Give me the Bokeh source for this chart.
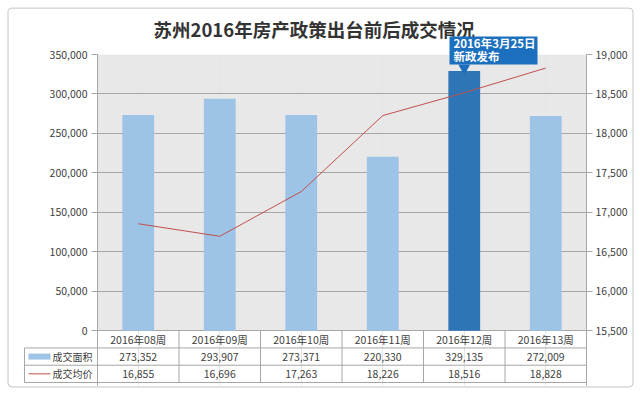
from bokeh.plotting import figure
from bokeh.models import Range1d, LinearAxis, FixedTicker, NumeralTickFormatter
from bokeh.core.properties import value
from bokeh.embed import file_html
from bokeh.resources import INLINE

# ---------------- data ----------------
TITLE = "苏州2016年房产政策出台前后成交情况"
WEEKS = ["2016年08周", "2016年09周", "2016年10周", "2016年11周", "2016年12周", "2016年13周"]
AREA = [273352, 293907, 273371, 220330, 329135, 272009]
PRICE = [16855, 16696, 17263, 18226, 18516, 18828]
SERIES_NAMES = ["成交面积", "成交均价"]
LEFT_TICKS = [0, 50000, 100000, 150000, 200000, 250000, 300000, 350000]
RIGHT_TICKS = [15500, 16000, 16500, 17000, 17500, 18000, 18500, 19000]
HIGHLIGHT = "2016年12周"
CALLOUT_LINES = ["2016年3月25日", "新政发布"]

# ---------------- layout (page pixels) ----------------
W, H = 640, 395
FL, FR = 97, 586      # plot area left/right
FT, FB = 53, 385      # frame top / bottom
Y0 = 330              # zero line of plot area
TB = 382              # table bottom
LEG_L = 24            # legend column left
BOX = (7, 633, 6, 387)  # outer chart border: left, right, top, bottom
TITLE_L = 153

FONT_NAME = "Noto Sans CJK SC"
FONT = value(FONT_NAME)
TXT = "#404040"
GRID = "#a6a6a6"
LIGHT = "#9dc3e6"
DARK = "#2e75b6"
RED = "#c0504d"
CALL = "#1b6fbd"

n = len(WEEKS)
xs = list(range(n))
ppx = (FR - FL) / n
def xpx(px):
    return -0.5 + (px - FL) / ppx

sy = (LEFT_TICKS[-1] - LEFT_TICKS[0]) / (Y0 - FT)
y_range = Range1d(LEFT_TICKS[0] - (FB - Y0) * sy, LEFT_TICKS[-1])
sp = (RIGHT_TICKS[-1] - RIGHT_TICKS[0]) / (Y0 - FT)
price_range = Range1d(RIGHT_TICKS[0] - (FB - Y0) * sp, RIGHT_TICKS[-1])
rows = 3
st = rows / (TB - Y0)
tbl_range = Range1d((TB - FB) * st, (TB - FT) * st)
def ypx(px):
    return (TB - px) * st

p = figure(width=W, height=H, x_range=Range1d(-0.5, n - 0.5), y_range=y_range,
           output_backend="svg", toolbar_location=None, tools="", x_axis_location=None,
           min_border_left=FL, min_border_right=W - FR,
           min_border_top=FT, min_border_bottom=H - FB)
p.extra_y_ranges = {"price": price_range, "tbl": tbl_range}
p.outline_line_color = None
p.background_fill_color = "white"
p.border_fill_color = "white"

# title
p.title.text = TITLE
p.title.align = "left"
p.title.offset = TITLE_L - FL
p.title.text_font = FONT_NAME
p.title.text_font_size = "18.5px"
p.title.text_font_style = "bold"
p.title.text_color = "#333333"
p.title.standoff = 26

# plot area background
p.quad(left=[-0.5], right=[n - 0.5], bottom=[LEFT_TICKS[0]], top=[LEFT_TICKS[-1]],
       fill_color="#e8e8e8", line_color=None, level="image")

p.ygrid.ticker = FixedTicker(ticks=LEFT_TICKS)
p.ygrid.grid_line_color = GRID

# bars + line
colors = [DARK if w == HIGHLIGHT else LIGHT for w in WEEKS]
p.vbar(x=xs, top=AREA, bottom=0, width=0.39, fill_color=colors, line_color=None)
p.line(xs, PRICE, y_range_name="price", line_color=RED, line_width=1)

# axes
def style_axis(ax):
    ax.axis_line_color = GRID
    ax.major_tick_line_color = GRID
    ax.major_tick_out = 6
    ax.major_tick_in = 0
    ax.minor_tick_line_color = None
    ax.major_label_text_font = FONT_NAME
    ax.major_label_text_font_size = "10.5px"
    ax.major_label_text_color = TXT
    ax.major_label_standoff = 4

ya = p.yaxis[0]
ya.ticker = FixedTicker(ticks=LEFT_TICKS)
ya.formatter = NumeralTickFormatter(format="0,0")
style_axis(ya)
ra = LinearAxis(y_range_name="price", ticker=FixedTicker(ticks=RIGHT_TICKS),
                formatter=NumeralTickFormatter(format="0,0"))
style_axis(ra)
ra.major_label_standoff = 3
p.add_layout(ra, "right")

# table grid inside plot frame
p.segment(x0=[-0.5] * rows, x1=[n - 0.5] * rows, y0=list(range(rows)), y1=list(range(rows)),
          y_range_name="tbl", line_color=GRID, line_width=1)
vx = [i - 0.5 for i in range(1, n)]
p.segment(x0=vx, x1=vx, y0=[0] * len(vx), y1=[rows] * len(vx),
          y_range_name="tbl", line_color=GRID, line_width=1)

# table texts
p.text(x=xs, y=[2.5] * n, text=WEEKS, y_range_name="tbl", text_align="center",
       text_baseline="middle", text_font=FONT, text_font_size="10.5px", text_color=TXT)
p.text(x=xs, y=[1.5] * n, text=[f"{v:,}" for v in AREA], y_range_name="tbl", text_align="center",
       text_baseline="middle", text_font=FONT, text_font_size="10.5px", text_color=TXT)
p.text(x=xs, y=[0.5] * n, text=[f"{v:,}" for v in PRICE], y_range_name="tbl", text_align="center",
       text_baseline="middle", text_font=FONT, text_font_size="10.5px", text_color=TXT)

# legend column (outside plot frame)
lx = xpx(LEG_L)
p.segment(x0=[lx] * 3, x1=[-0.5] * 3, y0=[0, 1, 2], y1=[0, 1, 2], y_range_name="tbl",
          line_color=GRID, level="overlay")
p.segment(x0=[lx], x1=[lx], y0=[0], y1=[2], y_range_name="tbl", line_color=GRID, level="overlay")
p.quad(left=[xpx(28)], right=[xpx(50)], bottom=[1.5 - 3 * st], top=[1.5 + 3 * st],
       y_range_name="tbl", fill_color=LIGHT, line_color=None, level="overlay")
p.segment(x0=[xpx(28)], x1=[xpx(50)], y0=[0.5], y1=[0.5], y_range_name="tbl",
          line_color=RED, line_width=1, level="overlay")
p.text(x=[xpx(52)] * 2, y=[1.5, 0.5], text=SERIES_NAMES, y_range_name="tbl",
       text_align="left", text_baseline="middle", text_font=FONT, text_font_size="10px",
       text_color=TXT, level="overlay")

# callout anchored on the highlighted bar
hi = WEEKS.index(HIGHLIGHT)
p.scatter(x=[hi], y=[AREA[hi] + 3 * sy], marker="inverted_triangle", size=12,
          fill_color=CALL, line_color=None)
p.quad(left=[hi - 14.75 / ppx], right=[hi + 73.25 / ppx],
       bottom=[AREA[hi] + 6.5 * sy], top=[AREA[hi] + 34.5 * sy],
       fill_color=CALL, line_color=None, level="overlay")
p.text(x=[hi] * 2, y=[AREA[hi]] * 2, text=CALLOUT_LINES, x_offset=-10.75, y_offset=[-27.5, -14.5],
       text_align="left", text_baseline="middle", text_color="white",
       text_font=FONT, text_font_size="11.5px", text_font_style="bold", level="overlay")

# outer chart border
p.quad(left=[xpx(BOX[0] + 0.5)], right=[xpx(BOX[1] - 0.5)],
       top=[ypx(BOX[2] + 0.5)], bottom=[ypx(BOX[3] - 0.5)], y_range_name="tbl",
       fill_color=None, line_color="#c4c4c4", line_width=1, border_radius=4, level="overlay")

open("out.html", "w").write(file_html(p, INLINE))
